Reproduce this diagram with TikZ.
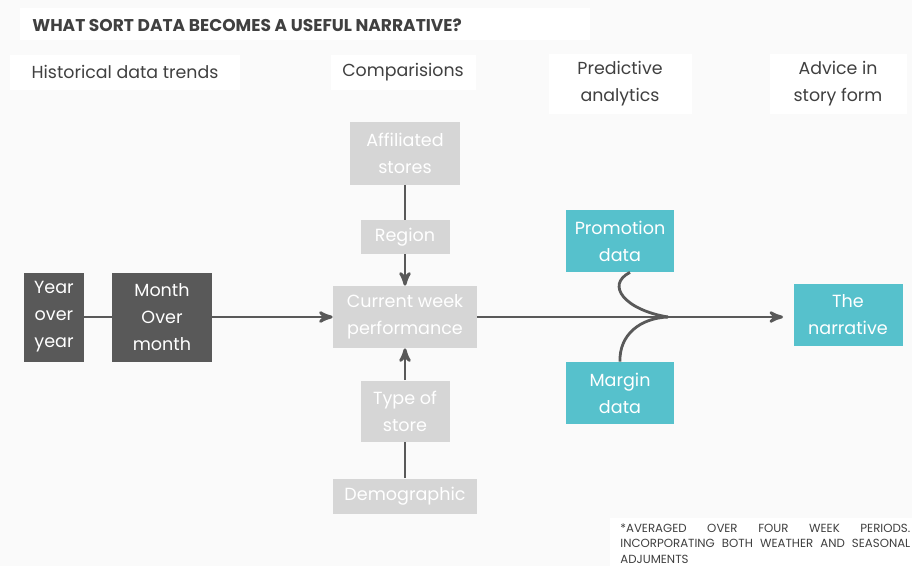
\documentclass[tikz,border=0pt]{standalone}
\usepackage{fontspec}
\setmainfont{Poppins}
\usepackage{xcolor}
\usetikzlibrary{arrows,positioning}

\definecolor{pagebg}{HTML}{FAFAFA}
\definecolor{darkbox}{HTML}{595959}
\definecolor{greybox}{HTML}{D6D6D6}
\definecolor{tealbox}{HTML}{56C1CC}
\definecolor{linecol}{HTML}{595959}
\definecolor{headtxt}{HTML}{404040}

\tikzset{
  box/.style={inner sep=0pt, align=center, text=white,
    font=\fontsize{10}{15.3}\selectfont},
  darknode/.style={box, fill=darkbox},
  greynode/.style={box, fill=greybox},
  tealnode/.style={box, fill=tealbox},
  header/.style={fill=white, inner sep=0pt, align=center, text=headtxt,
    font=\fontsize{9.9}{15.3}\selectfont},
  link/.style={draw=linecol, line width=1.6pt}
}

\begin{document}
\begin{tikzpicture}[x=0.02cm,y=-0.02cm,>=stealth']
  % page
  \fill[pagebg] (0,0) rectangle (912,566);
  \useasboundingbox (0,0) rectangle (912,566);

  % title and column heads
  \fill[white] (20,8) rectangle (590,40);
  \node[anchor=west, text=headtxt, inner sep=0pt,
    font=\fontsize{9.7}{10}\selectfont\bfseries] (title) at (32,25)
    {WHAT SORT DATA BECOMES A USEFUL NARRATIVE?};
  \node[header, minimum width=230*0.02cm, minimum height=35*0.02cm] (hist) at (125,72) {Historical data trends};
  \node[header, minimum width=145*0.02cm, minimum height=35*0.02cm] (comp) at (403,72) {Comparisions};
  \node[header, minimum width=143*0.02cm, minimum height=60*0.02cm] (pred) at (620,84) {Predictive\\analytics};
  \node[header, minimum width=137*0.02cm, minimum height=60*0.02cm] (advice) at (838,84) {Advice in\\story form};

  % historical trends
  \node[darknode, minimum width=60*0.02cm, minimum height=89*0.02cm] (yoy) at (54,317) {Year\\over\\year};
  \node[darknode, minimum width=100*0.02cm, minimum height=89*0.02cm] (mom) at (162,317) {Month\\Over\\month};

  % comparisons
  \node[greynode, minimum width=144*0.02cm, minimum height=62*0.02cm] (current) at (405,317) {Current week\\performance};
  \node[greynode, minimum width=110*0.02cm, minimum height=63*0.02cm] (affil) at (405,153) {Affiliated\\stores};
  \node[greynode, minimum width=89*0.02cm, minimum height=34*0.02cm] (region) at (405,237) {Region};
  \node[greynode, minimum width=89*0.02cm, minimum height=61*0.02cm] (storetype) at (405,411) {Type of\\store};
  \node[greynode, minimum width=144*0.02cm, minimum height=35*0.02cm] (demo) at (405,496) {Demographic};

  % predictive data and the narrative
  \node[tealnode, minimum width=108*0.02cm, minimum height=62*0.02cm] (promo) at (620,241) {Promotion\\data};
  \node[tealnode, minimum width=108*0.02cm, minimum height=62*0.02cm] (margin) at (620,393) {Margin\\data};
  \node[tealnode, minimum width=109*0.02cm, minimum height=62*0.02cm] (story) at (848,315) {The\\narrative};
  \coordinate (merge) at (668,317);
  \coordinate (tip) at (783,317);

  % connectors
  \draw[link] (yoy) -- (mom);
  \draw[link,->] (mom) -- (current);
  \draw[link] (affil) -- (region);
  \draw[link,->] (region) -- (current);
  \draw[link] (demo) -- (storetype);
  \draw[link,->] (storetype) -- (current);
  \draw[link,->] (current.east) -- (tip);
  \draw[link] ([xshift=0.2cm]promo.south) .. controls (605,285) and (625,310) .. (merge);
  \draw[link] (margin.north) .. controls (619,335) and (640,318) .. (merge);

  % footnote, first two lines stretched to the full width
  \fill[white] (610,518) rectangle (912,566);
  \node[anchor=north west, inner sep=0pt, text=headtxt, align=left,
    font=\fontsize{6.7}{8.9}\selectfont] (note) at (620,523)
    {\makebox[5.8cm][s]{*AVERAGED OVER FOUR WEEK PERIODS.}\\
     \makebox[5.8cm][s]{INCORPORATING BOTH WEATHER AND SEASONAL}\\
     ADJUMENTS};
\end{tikzpicture}
\end{document}
